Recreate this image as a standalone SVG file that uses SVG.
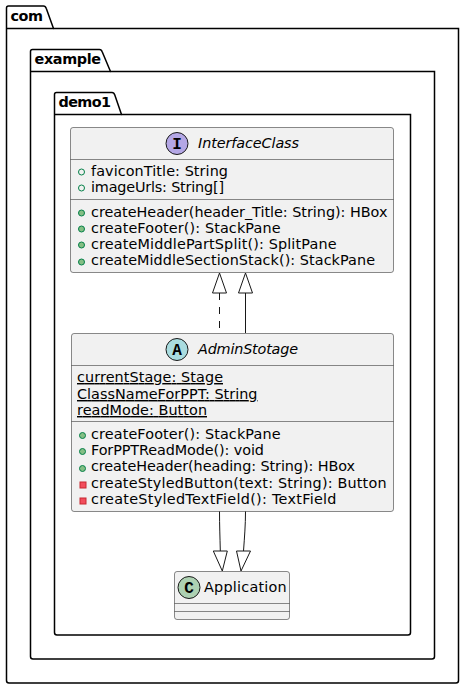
<svg xmlns="http://www.w3.org/2000/svg" width="464" height="689" viewBox="0 0 464 689">
<style>
text{font-family:"DejaVu Sans",sans-serif;font-size:14.400px;fill:#000}
.pkg{fill:none;stroke:#000;stroke-width:1.5}
.pt{font-weight:bold}
.box{fill:#F1F1F1;stroke:#181818;stroke-width:.5}
.div{stroke:#181818;stroke-width:.5;fill:none}
.ital{font-style:italic}
.u{text-decoration:underline}
.ci{stroke:#181818;stroke-width:1}
.glyph{font-family:"Liberation Mono",monospace;font-weight:bold;font-size:16px}
.edge{fill:none;stroke:#181818;stroke-width:1}
.head{fill:none;stroke:#181818;stroke-width:1}
.o{fill:none;stroke:#038048;stroke-width:1}
.g{fill:#84BE84;stroke:#038048;stroke-width:1}
.r{fill:#F24D5C;stroke:#C82930;stroke-width:1}
</style>
<g id="pkg-com">
<path class="pkg" d="M8.500 6H43.500C45 6 45.800 7 46.300 8.500L53.500 28.500H458.500V680.500C458.500 682 457.500 683 456 683H9C7.500 683 6.500 682 6.500 680.500V8C6.500 7 7.500 6 8.500 6Z"/>
<path class="pkg" d="M6.500 28.500H53.500"/>
<text class="pt" x="10.500" y="21" textLength="32.500">com</text>
</g>
<g id="pkg-example">
<path class="pkg" d="M32.500 49.500H99.500C101 49.500 101.800 50.500 102.300 52L110.500 71.500H434.500V656.500C434.500 658 433.500 659 432 659H33C31.500 659 30.500 658 30.500 656.500V51.500C30.500 50.500 31.500 49.500 32.500 49.500Z"/>
<path class="pkg" d="M30.500 71.500H110.500"/>
<text class="pt" x="34.500" y="64" textLength="66.500">example</text>
</g>
<g id="pkg-demo1">
<path class="pkg" d="M56.500 92.500H112C113.500 92.500 114.300 93.500 114.800 95L121.500 114.500H410.500V632.500C410.500 634 409.500 635 408 635H57C55.500 635 54.500 634 54.500 632.500V94.500C54.500 93.500 55.500 92.500 56.500 92.500Z"/>
<path class="pkg" d="M54.500 114.500H121.500"/>
<text class="pt" x="58.500" y="107" textLength="52.500">demo1</text>
</g>
<g id="node-InterfaceClass">
<rect class="box" x="70.500" y="127.500" width="323" height="145" rx="2.500"/>
<path class="div" d="M70.500 159.500H393.500M70.500 199.500H393.500"/>
<circle class="ci" cx="177" cy="143.500" r="11" fill="#B4A7E5"/>
<text class="glyph" x="177" y="148.500" text-anchor="middle">I</text>
<text class="ital" x="198" y="148" textLength="101">InterfaceClass</text>
<circle class="o" cx="81.500" cy="172" r="3"/><text x="91" y="176" textLength="137">faviconTitle: String</text>
<circle class="o" cx="81.500" cy="188" r="3"/><text x="91" y="192" textLength="133">imageUrls: String[]</text>
<circle class="g" cx="81.500" cy="213" r="3"/><text x="91" y="217" textLength="296.500">createHeader(header_Title: String): HBox</text>
<circle class="g" cx="81.500" cy="229" r="3"/><text x="91" y="233" textLength="189.500">createFooter(): StackPane</text>
<circle class="g" cx="81.500" cy="245" r="3"/><text x="91" y="249" textLength="245.500">createMiddlePartSplit(): SplitPane</text>
<circle class="g" cx="81.500" cy="262" r="3"/><text x="91" y="265" textLength="284">createMiddleSectionStack(): StackPane</text>
</g>
<g id="node-AdminStotage">
<rect class="box" x="71.500" y="333.500" width="322" height="178" rx="2.500"/>
<path class="div" d="M71.500 365.500H393.500M71.500 421.500H393.500"/>
<circle class="ci" cx="177" cy="349.500" r="11" fill="#A9DCDF"/>
<text class="glyph" x="177" y="354.500" text-anchor="middle">A</text>
<text class="ital" x="198" y="354" textLength="100">AdminStotage</text>
<text class="u" x="77" y="382" textLength="146">currentStage: Stage</text>
<text class="u" x="77" y="399" textLength="180.500">ClassNameForPPT: String</text>
<text class="u" x="77" y="415" textLength="130">readMode: Button</text>
<circle class="g" cx="82.500" cy="435.500" r="3"/><text x="91" y="439" textLength="189.500">createFooter(): StackPane</text>
<circle class="g" cx="82.500" cy="451.500" r="3"/><text x="91" y="455" textLength="173">ForPPTReadMode(): void</text>
<circle class="g" cx="82.500" cy="468.500" r="3"/><text x="91" y="471" textLength="264">createHeader(heading: String): HBox</text>
<rect class="r" x="80" y="482" width="6" height="6"/><text x="91" y="488" textLength="295.500">createStyledButton(text: String): Button</text>
<rect class="r" x="80" y="498" width="6" height="6"/><text x="91" y="504" textLength="245.500">createStyledTextField(): TextField</text>
</g>
<g id="node-Application">
<rect class="box" x="174.500" y="571.500" width="115" height="48" rx="2.500"/>
<path class="div" d="M174.500 603.500H289.500M174.500 611.500H289.500"/>
<circle class="ci" cx="189" cy="587.500" r="11" fill="#ADD1B2"/>
<text class="glyph" x="189" y="592.500" text-anchor="middle">C</text>
<text x="204" y="592" textLength="82.700">Application</text>
</g>
<g id="connectors">
<path class="edge" stroke-dasharray="7 7" d="M219.500 293V333"/>
<path class="head" d="M219.500 273L226.500 293H212.500Z"/>
<path class="edge" d="M245.500 333V293"/>
<path class="head" d="M245.500 273L252.500 293H238.500Z"/>
<path class="edge" d="M219.500 511.500C219.500 525 220 537 220.300 551"/>
<path class="head" d="M222.300 571L213.300 551H227.300Z"/>
<path class="edge" d="M245.500 511.500C245.500 525 244.500 537 243.500 551"/>
<path class="head" d="M241 571L236.500 551H250.500Z"/>
</g>
</svg>
